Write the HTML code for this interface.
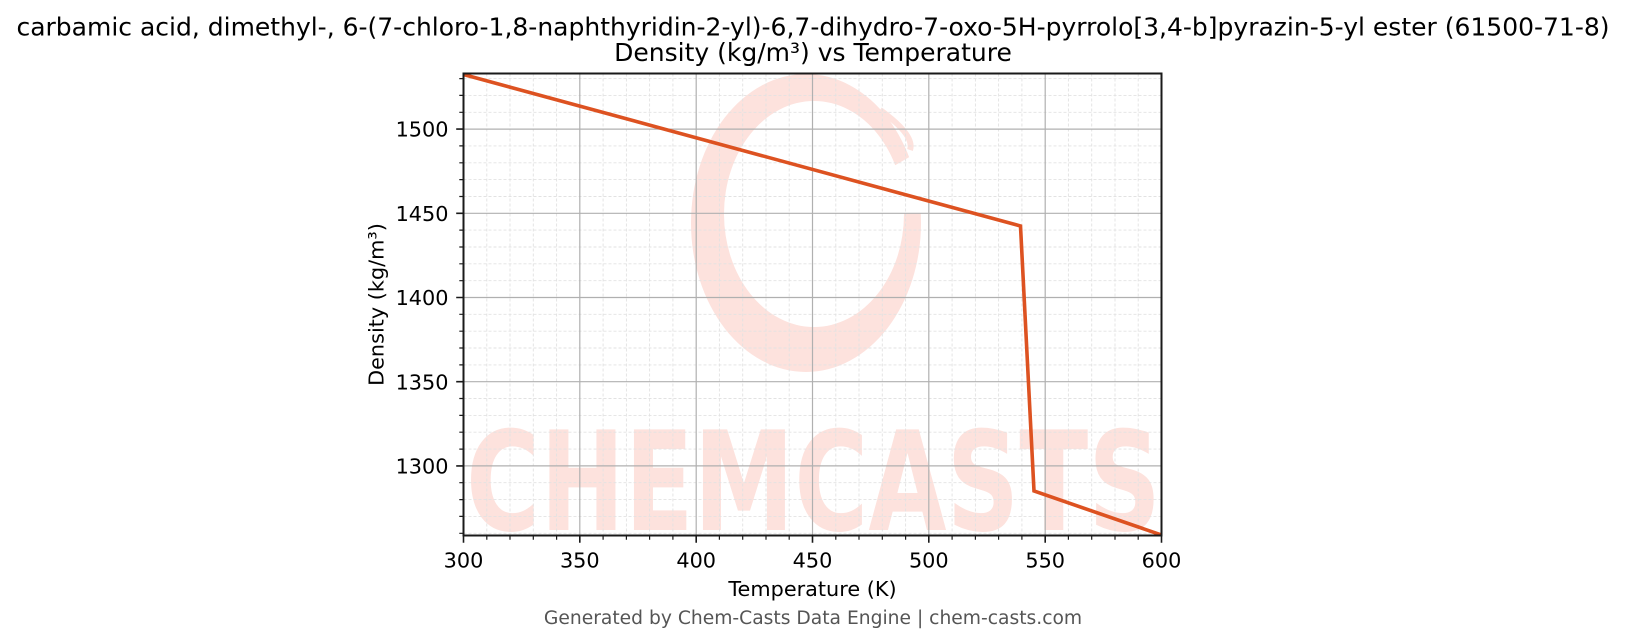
<!DOCTYPE html>
<html>
<head>
<meta charset="utf-8">
<style>
  html, body { margin: 0; padding: 0; background: #ffffff; }
  body { width: 1626px; height: 644px; overflow: hidden; }
  svg { display: block; }
  text { font-family: "DejaVu Sans", "Liberation Sans", sans-serif; }
</style>
</head>
<body>
<svg width="1626" height="644" viewBox="0 0 1626 644" xmlns="http://www.w3.org/2000/svg">
  <defs>
    <clipPath id="plotclip">
      <rect x="463.5" y="73.5" width="698" height="462"/>
    </clipPath>
    <mask id="ringmask">
      <rect x="600" y="50" width="400" height="350" fill="#fff"/>
      <polygon points="814,212 965,125 965,214" fill="#000"/>
    </mask>
  </defs>

  <rect x="0" y="0" width="1626" height="644" fill="#ffffff"/>

  <!-- Title -->
  <text x="813" y="35.5" font-size="25" text-anchor="middle" fill="#000">carbamic acid, dimethyl-, 6-(7-chloro-1,8-naphthyridin-2-yl)-6,7-dihydro-7-oxo-5H-pyrrolo[3,4-b]pyrazin-5-yl ester (61500-71-8)</text>
  <text x="813" y="61" font-size="25" text-anchor="middle" fill="#000">Density (kg/m³) vs Temperature</text>

  <!-- Watermark -->
  <g clip-path="url(#plotclip)">
    <path mask="url(#ringmask)" fill-rule="evenodd" fill="#fde2dd"
      d="M 691 223 A 115 149 0 1 0 921 223 A 115 149 0 1 0 691 223 Z
         M 724 214 A 90 113 0 1 0 904 214 A 90 113 0 1 0 724 214 Z"/>
    <path d="M 880 110 Q 915 135 910 150" stroke="#fde2dd" stroke-width="6" fill="none"/>
    <text x="466" y="530" font-size="138" font-weight="bold" fill="#fde2dd" textLength="695" lengthAdjust="spacingAndGlyphs">CHEMCASTS</text>
  </g>

  <!-- Minor grid -->
  <g stroke="#e2e2e2" stroke-width="0.9" stroke-dasharray="3,2" fill="none">
    <path d="M486.8 73.5V535.5 M510.0 73.5V535.5 M533.3 73.5V535.5 M556.6 73.5V535.5
             M603.1 73.5V535.5 M626.4 73.5V535.5 M649.6 73.5V535.5 M672.9 73.5V535.5
             M719.4 73.5V535.5 M742.7 73.5V535.5 M766.0 73.5V535.5 M789.2 73.5V535.5
             M835.8 73.5V535.5 M859.0 73.5V535.5 M882.3 73.5V535.5 M905.6 73.5V535.5
             M952.1 73.5V535.5 M975.4 73.5V535.5 M998.6 73.5V535.5 M1021.9 73.5V535.5
             M1068.4 73.5V535.5 M1091.7 73.5V535.5 M1115.0 73.5V535.5 M1138.2 73.5V535.5"/>
    <path d="M463.5 533.3H1161.5 M463.5 516.4H1161.5 M463.5 499.6H1161.5 M463.5 482.7H1161.5
             M463.5 449.1H1161.5 M463.5 432.2H1161.5 M463.5 415.4H1161.5 M463.5 398.5H1161.5
             M463.5 364.9H1161.5 M463.5 348.0H1161.5 M463.5 331.2H1161.5 M463.5 314.3H1161.5
             M463.5 280.7H1161.5 M463.5 263.8H1161.5 M463.5 247.0H1161.5 M463.5 230.1H1161.5
             M463.5 196.5H1161.5 M463.5 179.6H1161.5 M463.5 162.8H1161.5 M463.5 145.9H1161.5
             M463.5 112.3H1161.5 M463.5 95.4H1161.5 M463.5 78.6H1161.5"/>
  </g>

  <!-- Major grid -->
  <g stroke="#b0b0b0" stroke-width="1.2" fill="none">
    <path d="M579.8 73.5V535.5 M696.2 73.5V535.5 M812.5 73.5V535.5 M928.8 73.5V535.5 M1045.2 73.5V535.5"/>
    <path d="M463.5 465.9H1161.5 M463.5 381.7H1161.5 M463.5 297.5H1161.5 M463.5 213.3H1161.5 M463.5 129.1H1161.5"/>
  </g>

  <!-- Data line -->
  <g clip-path="url(#plotclip)">
    <polyline points="463.5,74.5 1020.5,226 1034,491 1161.5,535"
      fill="none" stroke="#dd5221" stroke-width="3.6" stroke-linejoin="miter" stroke-linecap="butt"/>
  </g>

  <!-- Spines -->
  <rect x="463.5" y="73.5" width="698" height="462" fill="none" stroke="#1a1a1a" stroke-width="2"/>

  <!-- X ticks -->
  <g stroke="#1a1a1a" stroke-width="1.6">
    <path d="M463.5 535.5v7.3 M579.8 535.5v7.3 M696.2 535.5v7.3 M812.5 535.5v7.3 M928.8 535.5v7.3 M1045.2 535.5v7.3 M1161.5 535.5v7.3"/>
  </g>
  <g stroke="#1a1a1a" stroke-width="1.2">
    <path d="M486.8 535.5v4.2 M510.0 535.5v4.2 M533.3 535.5v4.2 M556.6 535.5v4.2
             M603.1 535.5v4.2 M626.4 535.5v4.2 M649.6 535.5v4.2 M672.9 535.5v4.2
             M719.4 535.5v4.2 M742.7 535.5v4.2 M766.0 535.5v4.2 M789.2 535.5v4.2
             M835.8 535.5v4.2 M859.0 535.5v4.2 M882.3 535.5v4.2 M905.6 535.5v4.2
             M952.1 535.5v4.2 M975.4 535.5v4.2 M998.6 535.5v4.2 M1021.9 535.5v4.2
             M1068.4 535.5v4.2 M1091.7 535.5v4.2 M1115.0 535.5v4.2 M1138.2 535.5v4.2"/>
  </g>

  <!-- Y ticks -->
  <g stroke="#1a1a1a" stroke-width="1.6">
    <path d="M463.5 465.9h-7.3 M463.5 381.7h-7.3 M463.5 297.5h-7.3 M463.5 213.3h-7.3 M463.5 129.1h-7.3"/>
  </g>
  <g stroke="#1a1a1a" stroke-width="1.2">
    <path d="M463.5 533.3h-4.2 M463.5 516.4h-4.2 M463.5 499.6h-4.2 M463.5 482.7h-4.2
             M463.5 449.1h-4.2 M463.5 432.2h-4.2 M463.5 415.4h-4.2 M463.5 398.5h-4.2
             M463.5 364.9h-4.2 M463.5 348.0h-4.2 M463.5 331.2h-4.2 M463.5 314.3h-4.2
             M463.5 280.7h-4.2 M463.5 263.8h-4.2 M463.5 247.0h-4.2 M463.5 230.1h-4.2
             M463.5 196.5h-4.2 M463.5 179.6h-4.2 M463.5 162.8h-4.2 M463.5 145.9h-4.2
             M463.5 112.3h-4.2 M463.5 95.4h-4.2 M463.5 78.6h-4.2"/>
  </g>

  <!-- X tick labels -->
  <g font-size="20.8" fill="#000" text-anchor="middle">
    <text x="463.5" y="567.5">300</text>
    <text x="579.8" y="567.5">350</text>
    <text x="696.2" y="567.5">400</text>
    <text x="812.5" y="567.5">450</text>
    <text x="928.8" y="567.5">500</text>
    <text x="1045.2" y="567.5">550</text>
    <text x="1161.5" y="567.5">600</text>
  </g>

  <!-- Y tick labels -->
  <g font-size="20.8" fill="#000" text-anchor="end">
    <text x="448.5" y="473.5">1300</text>
    <text x="448.5" y="389.3">1350</text>
    <text x="448.5" y="305.1">1400</text>
    <text x="448.5" y="220.9">1450</text>
    <text x="448.5" y="136.7">1500</text>
  </g>

  <!-- Axis labels -->
  <text x="812.5" y="596" font-size="20.8" text-anchor="middle" fill="#000">Temperature (K)</text>
  <text transform="translate(383.5,304.5) rotate(-90)" x="0" y="0" font-size="20.8" text-anchor="middle" fill="#000">Density (kg/m³)</text>

  <!-- Footer -->
  <text x="813" y="624" font-size="18.7" text-anchor="middle" fill="#555">Generated by Chem-Casts Data Engine | chem-casts.com</text>
</svg>
</body>
</html>
